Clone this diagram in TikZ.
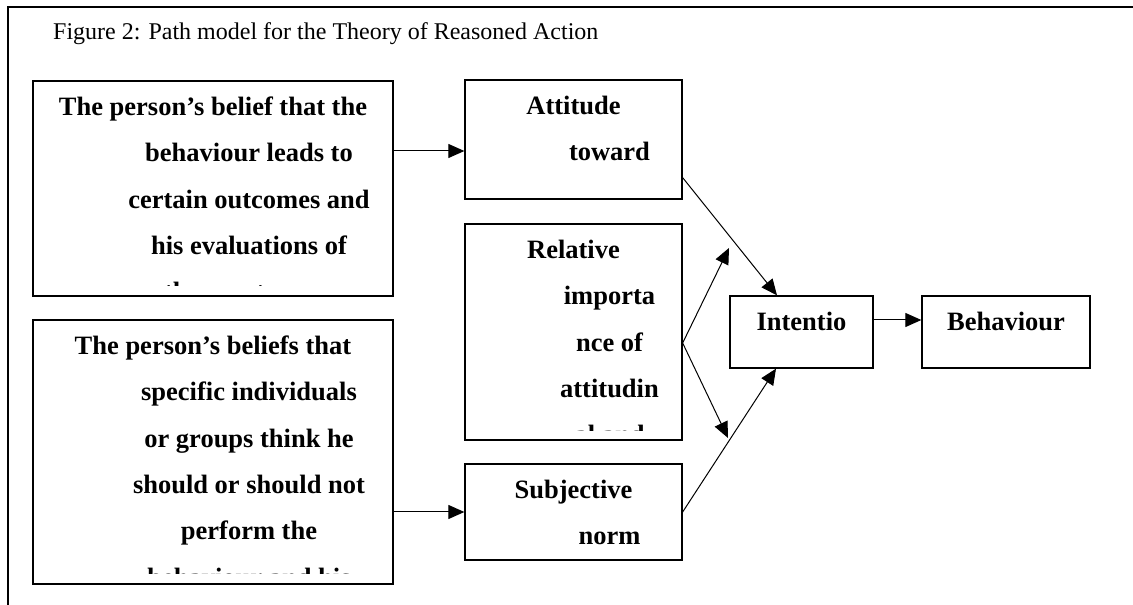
\documentclass[tikz,border=0pt]{standalone}
\usepackage{fontspec}
\setmainfont{Liberation Serif}
\usetikzlibrary{arrows.meta}

\tikzset{
  blk/.style={draw,line width=1.3bp,inner sep=0pt},
  txt/.style={anchor=north,inner sep=0pt,align=flush center,
    font=\fontsize{26.5bp}{46.3bp}\selectfont\bfseries},
  conn/.style={-{Triangle[length=16bp,width=14bp]},line width=1bp}
}

\begin{document}
\begin{tikzpicture}
\useasboundingbox (0bp,0bp) rectangle (1133bp,605bp);
% frame and caption
\draw [line width=1.3bp] (8bp,0bp) |- (1133bp,598bp);
\node (cap) at (53bp,565bp) [anchor=base west,inner sep=0pt,font=\fontsize{24bp}{28bp}\selectfont] {Figure 2: Path model for the Theory of Reasoned Action};

% boxes
\node (belief) at (213bp,416.5bp) [blk,minimum width=360bp,minimum height=215bp] {};
\node (norms) at (213bp,153bp) [blk,minimum width=360bp,minimum height=264bp] {};
\node (att) at (573.5bp,465.5bp) [blk,minimum width=217bp,minimum height=119bp] {};
\node (rel) at (573.5bp,273bp) [blk,minimum width=217bp,minimum height=216bp] {};
\node (subj) at (573.5bp,93bp) [blk,minimum width=217bp,minimum height=96bp] {};
\node (intent) at (801.5bp,273bp) [blk,minimum width=143bp,minimum height=72bp] {};
\node (behav) at (1006bp,273bp) [blk,minimum width=168bp,minimum height=72bp] {};

% texts, cut off at the foot of each box
\begin{scope}
\clip (belief.north west) rectangle ([yshift=11bp]belief.south east);
\node (beliefTxt) at ([xshift=36bp,yshift=-16bp]belief.north) [txt,text width=300bp] {\rule{0pt}{19bp}\hspace*{-72bp}The person's belief that the\\ behaviour leads to\\ certain outcomes and\\ his evaluations of\\ these outcomes};
\end{scope}
\begin{scope}
\clip (norms.north west) rectangle ([yshift=11bp]norms.south east);
\node (normsTxt) at ([xshift=36bp,yshift=-16bp]norms.north) [txt,text width=300bp] {\rule{0pt}{19bp}\hspace*{-72bp}The person's beliefs that\\ specific individuals\\ or groups think he\\ should or should not\\ perform the\\ behaviour and his};
\end{scope}
\begin{scope}
\clip (att.north west) rectangle ([yshift=11bp]att.south east);
\node (attTxt) at ([xshift=36bp,yshift=-16bp]att.north) [txt,text width=160bp] {\rule{0pt}{19bp}\hspace*{-72bp}Attitude\\ toward};
\end{scope}
\begin{scope}
\clip (rel.north west) rectangle ([yshift=10bp]rel.south east);
\node (relTxt) at ([xshift=36bp,yshift=-16bp]rel.north) [txt,text width=160bp] {\rule{0pt}{19bp}\hspace*{-72bp}Relative\\ importa\\ nce of\\ attitudin\\ al and};
\end{scope}
\begin{scope}
\clip (subj.north west) rectangle ([yshift=11bp]subj.south east);
\node (subjTxt) at ([xshift=36bp,yshift=-16bp]subj.north) [txt,text width=160bp] {\rule{0pt}{19bp}\hspace*{-72bp}Subjective\\ norm};
\end{scope}
\node (intentTxt) at ([yshift=-16bp]intent.north) [txt,text width=140bp] {\rule{0pt}{19bp}Intentio};
\node (behavTxt) at ([yshift=-16bp]behav.north) [txt,text width=160bp] {\rule{0pt}{19bp}Behaviour};

% connectors
\coordinate (p1) at ([yshift=-11.5bp]att.west);
\coordinate (fork) at ([yshift=-11bp]rel.east);
\coordinate (up) at (729bp,357bp);
\coordinate (down) at (728bp,167bp);
\draw [conn] (belief.east |- p1) -- (p1);
\draw [conn] (norms.east |- subj.west) -- (subj.west);
\draw [conn] ([yshift=22bp]att.south east) -- ([xshift=-24.5bp]intent.north);
\draw [conn] (fork) -- (up);
\draw [conn] (fork) -- (down);
\draw [conn] (subj.east) -- ([xshift=-25.5bp]intent.south);
\draw [conn] ([yshift=12bp]intent.east) -- ([yshift=12bp]behav.west);
\end{tikzpicture}
\end{document}
